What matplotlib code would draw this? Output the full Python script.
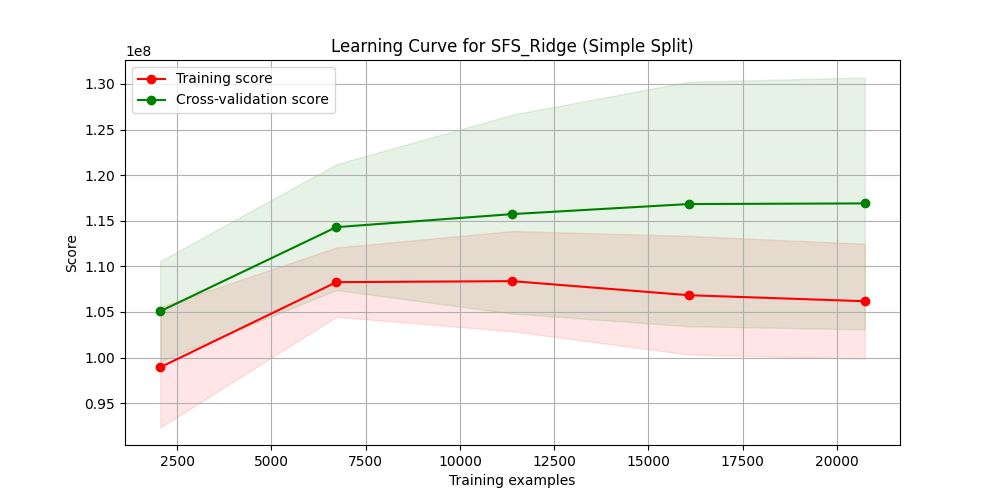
import matplotlib
matplotlib.use("Agg")
import matplotlib.pyplot as plt
import numpy as np

train_sizes = [2049, 6722, 11395, 16069, 20742]
train_mean = [0.9894e8, 1.0827e8, 1.0838e8, 1.0684e8, 1.0618e8]
train_std = [0.066e8, 0.038e8, 0.055e8, 0.065e8, 0.063e8]
cv_mean = [1.0508e8, 1.143e8, 1.1573e8, 1.1683e8, 1.1690e8]
cv_std = [0.055e8, 0.069e8, 0.109e8, 0.134e8, 0.138e8]

train_mean = np.array(train_mean); train_std = np.array(train_std)
cv_mean = np.array(cv_mean); cv_std = np.array(cv_std)

fig, ax = plt.subplots(figsize=(10, 5), dpi=100)
ax.set_title("Learning Curve for SFS_Ridge (Simple Split)")
ax.set_xlabel("Training examples")
ax.set_ylabel("Score")
ax.grid()
ax.fill_between(train_sizes, train_mean - train_std, train_mean + train_std, alpha=0.1, color="r")
ax.fill_between(train_sizes, cv_mean - cv_std, cv_mean + cv_std, alpha=0.1, color="g")
ax.plot(train_sizes, train_mean, 'o-', color="r", label="Training score")
ax.plot(train_sizes, cv_mean, 'o-', color="g", label="Cross-validation score")
ax.legend(loc="best")
fig.savefig("out.png")
